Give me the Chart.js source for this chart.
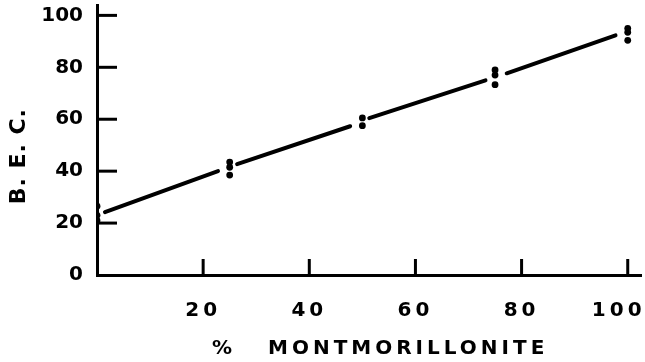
<!DOCTYPE html>
<html><head><meta charset="utf-8">
<script src="https://cdn.jsdelivr.net/npm/chart.js@4"></script>
<style>html,body{margin:0;padding:0;background:#fff}#wrap{width:645px;height:362px}</style>
</head><body><div id="wrap"><canvas id="c" width="645" height="362"></canvas></div>
<script>
// measured data (% montmorillonite vs B.E.C.)
const pctMontmorillonite = [0, 0, 0, 25, 25, 25, 50, 50, 75, 75, 75, 100, 100, 100];
const becValues = [26.5, 23, 21, 43.5, 41.5, 38.5, 60.5, 57.5, 79, 77, 73.3, 95, 93.5, 90.4];
// fitted line, drawn as broken segments (null = gap at each point group)
const fitX = [1.5, 22.8, 24.5, 26.4, 47.7, 49.5, 51.3, 73.2, 75, 77.2, 97.7];
const fitY = [24.2, 40, null, 42.7, 57.3, null, 60.4, 75, null, 77.7, 92.3];
const xTicks = [20, 40, 60, 80, 100];
const yTicks = [20, 40, 60, 80, 100];
const xTitleSymbol = '%';
const xTitleWord = 'MONTMORILLONITE';
const yTitle = 'B. E. C.';

const pts = pctMontmorillonite.map((x, i) => ({x, y: becValues[i]}));
const fit = fitX.map((x, i) => ({x, y: fitY[i]}));

const FONT = '"DejaVu Sans", "Liberation Sans", sans-serif';

function noPad(s) { s.paddingLeft = 0; s.paddingRight = 0; s.paddingTop = 0; s.paddingBottom = 0; }

const decor = {
  id: 'decor',
  beforeDraw(chart) {
    const xs = chart.scales.x;
    if (!xs._patched) {
      const origItems = xs.getLabelItems;
      xs.getLabelItems = function (area) {
        const items = origItems.call(this, area);
        if (!this._shifted && items.length) {
          const last = items[items.length - 1];
          last.options.translation = [last.options.translation[0] - 9, last.options.translation[1]];
          this._shifted = true;
        }
        return items;
      };
      const orig = xs.drawLabels;
      xs.drawLabels = function (area) {
        const ctx = this.ctx; ctx.save(); ctx.letterSpacing = '4px';
        orig.call(this, area); ctx.restore();
      };
      xs._patched = true;
    }
  },
  afterDraw(chart) {
    const {ctx, chartArea: a, scales: {x, y}} = chart;
    ctx.save();
    ctx.strokeStyle = '#000'; ctx.lineWidth = 3; ctx.lineCap = 'butt';
    // inward tick marks
    xTicks.forEach(v => {
      const px = x.getPixelForValue(v);
      ctx.beginPath(); ctx.moveTo(px, a.bottom); ctx.lineTo(px, a.bottom - 16); ctx.stroke();
    });
    yTicks.forEach(v => {
      const py = y.getPixelForValue(v);
      ctx.beginPath(); ctx.moveTo(a.left, py); ctx.lineTo(a.left + 20, py); ctx.stroke();
    });
    ctx.fillStyle = '#000';
    ctx.textAlign = 'left'; ctx.textBaseline = 'middle';
    ctx.font = 'bold 20px ' + FONT;
    ctx.letterSpacing = '0px';
    ctx.fillText(xTitleSymbol, a.left + 115, 349);
    ctx.letterSpacing = '4px';
    ctx.fillText(xTitleWord, a.left + 171, 349);
    ctx.textAlign = 'center';
    ctx.translate(19, a.top + (a.bottom - a.top) * 0.56);
    ctx.rotate(-Math.PI / 2);
    ctx.font = 'bold 22px ' + FONT;
    ctx.letterSpacing = '1px';
    ctx.fillText(yTitle, 0, 0);
    ctx.restore();
  }
};

new Chart(document.getElementById('c'), {
  type: 'scatter',
  data: {
    datasets: [
      {data: pts, pointRadius: 3.4, pointHoverRadius: 3.4, backgroundColor: '#000', borderColor: '#000', borderWidth: 0},
      {type: 'line', data: fit, showLine: true, spanGaps: false, pointRadius: 0, borderColor: '#000', borderWidth: 4, borderCapStyle: 'round', fill: false}
    ]
  },
  options: {
    responsive: false,
    animation: false,
    events: [],
    layout: {padding: {top: 5, right: 4, left: 0, bottom: 0}},
    plugins: {legend: {display: false}, tooltip: {enabled: false}},
    scales: {
      x: {
        type: 'linear', position: 'bottom', min: 0, max: 102.5,
        grid: {display: false, drawTicks: false},
        border: {display: true, color: '#000', width: 3},
        ticks: {stepSize: 20, includeBounds: false, padding: 24, color: '#000',
          font: {family: FONT, weight: 'bold', size: 20},
          callback: v => (v === 0 ? '' : String(v))},
        afterFit: s => { s.height = 87; noPad(s); }
      },
      y: {
        type: 'linear', min: 0, max: 104,
        grid: {display: false, drawTicks: false},
        border: {display: true, color: '#000', width: 3},
        ticks: {stepSize: 20, includeBounds: false, padding: 14, color: '#000',
          font: {family: FONT, weight: 'bold', size: 20}},
        afterFit: s => { s.width = 97; noPad(s); }
      }
    }
  },
  plugins: [decor]
});
</script></body></html>
